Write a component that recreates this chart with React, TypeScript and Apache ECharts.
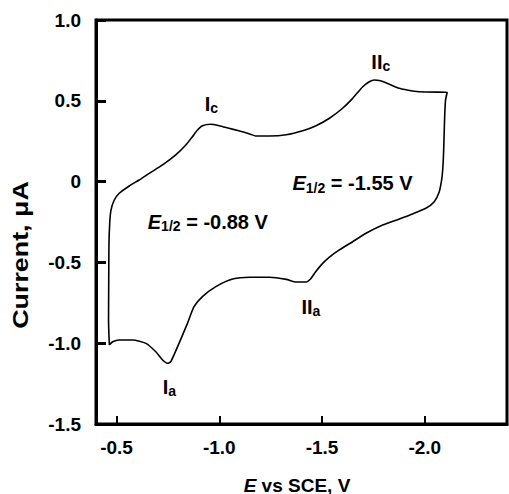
import React, { useEffect, useRef } from "react";
import * as echarts from "echarts";

// Cyclic voltammogram trace (E vs SCE in V, current in µA), in scan order
const potentialV = [
  -0.465, -0.461, -0.462, -0.463, -0.467, -0.473, -0.489, -0.513, -0.562, -0.61,
  -0.659, -0.724, -0.788, -0.837, -0.869, -0.894, -0.918, -0.958, -0.999, -1.047,
  -1.099, -1.148, -1.177, -1.245, -1.326, -1.406, -1.471, -1.536, -1.6, -1.649,
  -1.698, -1.73, -1.754, -1.779, -1.811, -1.876, -1.94, -2.005, -2.109, -2.101,
  -2.097, -2.094, -2.091, -2.087, -2.082, -2.07, -2.046, -2.005, -1.94, -1.876,
  -1.795, -1.714, -1.649, -1.584, -1.536, -1.503, -1.468, -1.444, -1.423, -1.374,
  -1.326, -1.245, -1.148, -1.065, -0.983, -0.918, -0.877, -0.845, -0.804, -0.764,
  -0.748, -0.724, -0.691, -0.643, -0.578, -0.513, -0.481, -0.465,
];
const currentUA = [
  -1.011, -0.856, -0.609, -0.392, -0.25, -0.176, -0.114, -0.072, -0.027, 0.01,
  0.051, 0.103, 0.165, 0.226, 0.278, 0.319, 0.346, 0.355, 0.346, 0.33,
  0.313, 0.295, 0.282, 0.282, 0.29, 0.315, 0.346, 0.392, 0.454, 0.515,
  0.587, 0.618, 0.629, 0.626, 0.612, 0.577, 0.561, 0.554, 0.553, 0.505,
  0.412, 0.288, 0.165, 0.072, 0.01, -0.064, -0.124, -0.165, -0.2, -0.231,
  -0.269, -0.32, -0.372, -0.423, -0.467, -0.506, -0.559, -0.603, -0.621, -0.621,
  -0.605, -0.592, -0.592, -0.603, -0.65, -0.712, -0.774, -0.877, -1.001, -1.114,
  -1.124, -1.104, -1.053, -1.001, -0.98, -0.98, -0.991, -1.011,
];

const xTickValues = [-0.5, -1.0, -1.5, -2.0];
const xMin = -2.4;
const xMax = -0.4;
const yMin = -1.5;
const yMax = 1.0;
const yInterval = 0.5;

// Annotations (anchor = left edge, vertical middle, in data coordinates)
const annotationText = [
  "{m|I}{s|c}",
  "{m|II}{s|c}",
  "{m|I}{s|a}",
  "{m|II}{s|a}",
  "{e|E}{s|1/2}{m| = -0.88 V}",
  "{e|E}{s|1/2}{m| = -1.55 V}",
];
const annotationX = [-0.929, -1.74, -0.725, -1.4, -0.652, -1.356];
const annotationY = [0.483, 0.743, -1.268, -0.773, -0.248, -0.009];

const FONT = '"Liberation Sans", Arial, Helvetica, sans-serif';

export default function App() {
  const ref = useRef<HTMLDivElement | null>(null);

  useEffect(() => {
    document.body.style.margin = "0";
    if (!ref.current) return;
    const chart = echarts.init(ref.current, undefined, { renderer: "svg" });

    const trace = potentialV.map((x, i) => [x, currentUA[i]]);
    const notes = annotationText.map((t, i) => ({
      value: [annotationX[i], annotationY[i]],
      name: t,
    }));

    const rich = {
      m: { fontFamily: FONT, fontWeight: "bold", fontSize: 20, lineHeight: 22, color: "#000" },
      e: { fontFamily: FONT, fontWeight: "bold", fontStyle: "italic", fontSize: 20, lineHeight: 22, color: "#000" },
      s: { fontFamily: FONT, fontWeight: "bold", fontSize: 14, lineHeight: 14, padding: [9, 0, 0, 0], color: "#000" },
    };

    chart.setOption({
      animation: false,
      backgroundColor: "#fff",
      grid: {
        left: 96,
        right: 2,
        top: 20,
        bottom: 70,
        show: true,
        borderColor: "#000",
        borderWidth: 3,
        backgroundColor: "transparent",
        containLabel: false,
        outerBoundsMode: "none",
      },
      xAxis: {
        type: "value",
        inverse: true,
        min: xMin,
        max: xMax,
        axisLine: { show: true, onZero: false, lineStyle: { color: "#000", width: 3 } },
        axisTick: {
          show: true,
          inside: true,
          length: 8,
          customValues: xTickValues,
          lineStyle: { color: "#000", width: 2 },
        },
        axisLabel: {
          customValues: xTickValues,
          formatter: (v: number) => v.toFixed(1),
          fontFamily: FONT,
          fontWeight: "bold",
          fontSize: 19,
          color: "#000",
          margin: 14,
        },
        splitLine: { show: false },
      },
      yAxis: {
        type: "value",
        min: yMin,
        max: yMax,
        interval: yInterval,
        axisLine: { show: true, onZero: false, lineStyle: { color: "#000", width: 3 } },
        axisTick: {
          show: true,
          inside: true,
          length: 10,
          lineStyle: { color: "#000", width: 3 },
        },
        axisLabel: {
          formatter: (v: number) => (Math.abs(v) < 1e-9 ? "0" : v.toFixed(1)),
          fontFamily: FONT,
          fontWeight: "bold",
          fontSize: 19,
          color: "#000",
          margin: 15,
        },
        splitLine: { show: false },
      },
      series: [
        {
          type: "line",
          data: trace,
          showSymbol: false,
          symbol: "none",
          smooth: 0.2,
          lineStyle: { color: "#000", width: 1.6 },
          silent: true,
        },
        {
          type: "scatter",
          data: notes,
          symbolSize: 0,
          silent: true,
          itemStyle: { color: "#000", opacity: 1 },
          label: {
            show: true,
            position: "right",
            distance: 0,
            color: "#000",
            opacity: 1,
            formatter: (p: any) => p.name,
            rich,
          },
        },
      ],
      graphic: [
        {
          type: "text",
          x: 20,
          y: 255,
          rotation: Math.PI / 2,
          scaleX: 1.22,
          style: {
            text: "Current, μA",
            fontFamily: FONT,
            fontWeight: "bold",
            fontSize: 22,
            fill: "#000",
            align: "center",
            verticalAlign: "middle",
          },
        },
        {
          type: "text",
          x: 297,
          y: 485,
          style: {
            text: "{i|E}{n| vs SCE, V}",
            align: "center",
            verticalAlign: "middle",
            rich: {
              i: { fontFamily: FONT, fontWeight: "bold", fontStyle: "italic", fontSize: 19, color: "#000" },
              n: { fontFamily: FONT, fontWeight: "bold", fontSize: 19, color: "#000" },
            },
          },
        },
      ],
    });

    return () => chart.dispose();
  }, []);

  return (
    <div
      ref={ref}
      style={{ position: "fixed", left: 0, top: 0, width: 509, height: 494 }}
    />
  );
}
